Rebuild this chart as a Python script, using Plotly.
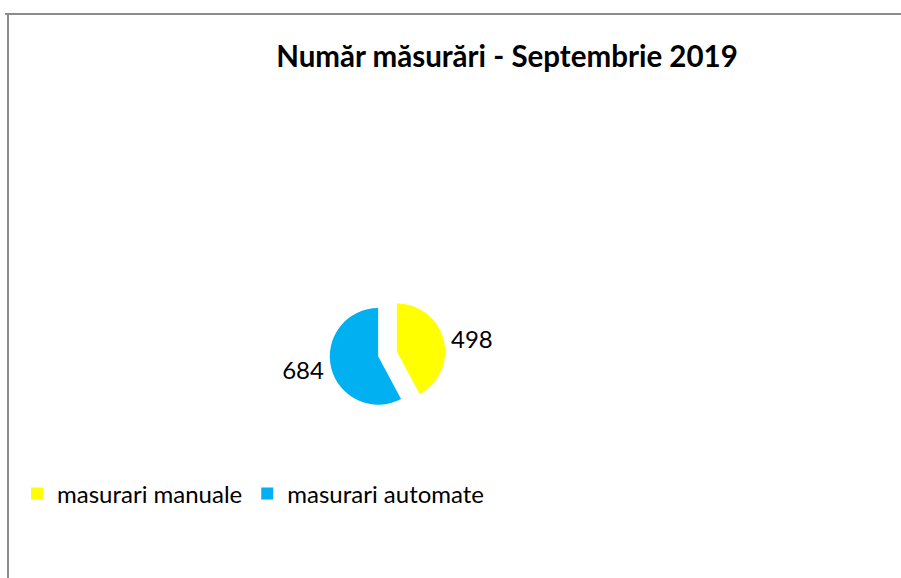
import plotly.graph_objects as go

labels = ["masurari manuale", "masurari automate"]
values = [498, 684]
colors = ["#FFFF00", "#00B0F0"]
title_text = "Număr măsurări - Septembrie 2019"

W, H = 901, 578
cx, cy = 387.5, 354.0
half = 58.0

fig = go.Figure(go.Pie(
    labels=labels, values=values, sort=False, direction="clockwise", rotation=0,
    pull=[0.2, 0.2],
    marker=dict(colors=colors, line=dict(width=0)),
    textinfo="value", textposition="outside",
    textfont=dict(family="Lato", size=24, color="#000000"),
    domain=dict(x=[(cx - half) / W, (cx + half) / W], y=[1 - (cy + half) / H, 1 - (cy - half) / H]),
))

fig.update_layout(
    width=W, height=H, margin=dict(l=0, r=0, t=0, b=0),
    paper_bgcolor="white",
    title=dict(text="<b>" + title_text + "</b>", x=507 / W, xanchor="center", y=1 - 57 / H, yanchor="middle",
               font=dict(family="Lato", size=29.5, color="#000000")),
    legend=dict(orientation="h", x=17 / W, xanchor="left", y=1 - 494 / H, yanchor="middle",
                font=dict(family="Lato", size=24, color="#000000"), itemwidth=30, traceorder="normal"),
    shapes=[
        dict(type="line", xref="paper", yref="paper", x0=5 / W, x1=1, y0=1 - 14 / H, y1=1 - 14 / H,
             line=dict(color="#8C8C8C", width=2)),
        dict(type="line", xref="paper", yref="paper", x0=8 / W, x1=8 / W, y0=0, y1=1 - 14 / H,
             line=dict(color="#8C8C8C", width=2)),
    ],
)

fig.write_html("out.html", config={"displayModeBar": False},
               post_script="document.body.style.margin='0';document.body.style.padding='0';")
